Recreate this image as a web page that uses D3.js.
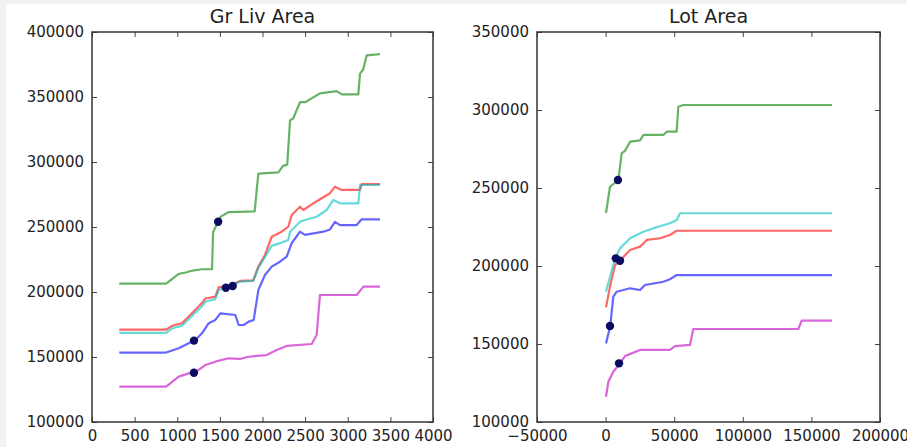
<!DOCTYPE html>
<html>
<head>
<meta charset="utf-8">
<script src="https://cdn.jsdelivr.net/npm/d3@7"></script>
<style>
    body { margin: 0; background: #f2f2f2; }
    svg { display: block; font-family: 'DejaVu Sans', sans-serif; }
</style>
</head>
<body>
<svg id="chart" width="907" height="447"></svg>
<script>
// Gr Liv Area 各条曲线 [x, y]
const grLivBlue = [[320, 153400], [870, 153400], [1017, 156700], [1134, 160500], [1212, 163100], [1290, 168200], [1369, 176000], [1447, 178500], [1505, 183600], [1681, 182300], [1720, 174600], [1779, 174600], [1838, 177200], [1897, 178500], [1951, 201500], [2029, 213100], [2108, 219500], [2205, 223300], [2284, 227200], [2342, 237500], [2440, 246400], [2498, 243900], [2714, 246400], [2792, 248100], [2850, 254000], [2909, 251500], [3105, 251500], [3163, 255900], [3378, 255900]]
const grLivGreen = [[320, 206500], [870, 206500], [1017, 214000], [1100, 215000], [1180, 216500], [1290, 217500], [1408, 217500], [1420, 246000], [1478, 254000], [1510, 258000], [1603, 261500], [1908, 262000], [1951, 291000], [2186, 292000], [2240, 297000], [2290, 298000], [2323, 332000], [2360, 333500], [2440, 346000], [2500, 346000], [2674, 352800], [2870, 354500], [2929, 352000], [3124, 352000], [3144, 368000], [3180, 371000], [3222, 382000], [3378, 383000]]
const grLivRed = [[320, 171000], [870, 171000], [938, 174000], [1056, 176000], [1173, 183600], [1290, 191500], [1330, 195000], [1447, 196400], [1486, 203500], [1600, 204500], [1736, 208500], [1892, 209000], [1951, 219500], [2029, 228500], [2108, 242500], [2225, 246400], [2303, 250200], [2342, 259200], [2440, 265600], [2479, 263100], [2596, 268200], [2694, 272100], [2792, 276000], [2850, 281000], [2929, 278500], [3144, 278500], [3163, 283000], [3378, 283000]]
const grLivCyan = [[320, 168500], [870, 168500], [938, 172000], [1056, 174000], [1173, 181500], [1290, 189000], [1330, 192500], [1447, 194500], [1486, 201500], [1600, 203500], [1736, 208000], [1892, 208500], [1951, 218500], [2029, 227000], [2108, 235500], [2225, 238000], [2303, 240000], [2323, 246400], [2440, 254000], [2498, 255400], [2635, 257900], [2753, 263100], [2831, 270800], [2909, 268200], [3124, 268200], [3144, 282300], [3378, 282300]]
const grLivMagenta = [[320, 127200], [870, 127200], [1017, 134900], [1134, 137400], [1205, 137900], [1329, 143800], [1447, 146400], [1603, 149000], [1736, 148500], [1834, 150200], [2049, 151500], [2166, 155400], [2284, 158500], [2577, 160000], [2635, 166900], [2674, 197700], [3105, 197700], [3183, 204100], [3378, 204100]]
const grLivDots = [[1480, 254000], [1570, 203300], [1650, 204600], [1196, 162600], [1196, 137900]]

// Lot Area 各条曲线 [x, y]
const lotBlue = [[300, 150400], [3400, 161500], [5600, 180300], [8100, 183500], [17800, 185700], [25100, 184600], [28700, 187800], [42100, 189900], [46900, 191500], [51800, 194200], [165000, 194200]]
const lotGreen = [[300, 234000], [3200, 250800], [9300, 255100], [11700, 272200], [14100, 273800], [17800, 279700], [25100, 280500], [27500, 284000], [42100, 284000], [44500, 286100], [51800, 286100], [53000, 302100], [56600, 303200], [165000, 303200]]
const lotRed = [[300, 173500], [3200, 186800], [6900, 200600], [10500, 203400], [17800, 210300], [25100, 212400], [30000, 216700], [39700, 217800], [46900, 219900], [51800, 222600], [165000, 222600]]
const lotCyan = [[300, 183500], [3200, 193100], [6900, 204900], [10500, 211300], [17800, 217800], [27500, 222000], [37200, 224800], [46900, 227400], [51800, 229500], [54200, 233800], [165000, 233800]]
const lotMagenta = [[300, 116200], [2000, 125800], [5600, 132200], [10500, 137600], [14100, 142300], [19000, 144000], [25100, 146200], [46900, 146200], [50600, 148700], [61500, 149400], [63900, 159600], [140500, 159600], [142900, 165000], [165000, 165000]]
const lotDots = [[9000, 255100], [7400, 204900], [10500, 203400], [3200, 161500], [9800, 137600]]

// 刻度
const grLivXTicks = d3.range(0, 4001, 500)
const grLivYTicks = d3.range(100000, 400001, 50000)
const lotXTicks = d3.range(-50000, 200001, 50000)
const lotYTicks = d3.range(100000, 350001, 50000)

const colors = ['#0000ff', '#008000', '#ff0000', '#00bfbf', '#bf00bf']

const svg = d3.select('#chart')

// 白色画布,左上留一点灰边
svg.append('rect')
    .attr('x', 6).attr('y', 4)
    .attr('width', 901).attr('height', 443)
    .attr('fill', '#ffffff')

function drawPanel(opt) {
    const x = d3.scaleLinear().domain(opt.xDomain).range([opt.left, opt.right])
    const y = d3.scaleLinear().domain(opt.yDomain).range([opt.bottom, opt.top])
    const g = svg.append('g')

    // 曲线
    const line = d3.line().x(d => x(d[0])).y(d => y(d[1]))
    opt.series.forEach((s, i) => {
        g.append('path')
            .datum(s)
            .attr('d', line)
            .attr('fill', 'none')
            .attr('stroke', colors[i])
            .attr('stroke-opacity', 0.6)
            .attr('stroke-width', 2.2)
            .attr('stroke-linejoin', 'round')
    })

    // 当前值的点
    g.selectAll('.dot')
        .data(opt.dots)
        .enter()
        .append('circle')
        .attr('class', 'dot')
        .attr('cx', d => x(d[0]))
        .attr('cy', d => y(d[1]))
        .attr('r', 4.2)
        .attr('fill', '#0b0b62')

    // 坐标轴,刻度朝内,四边都有
    const tick = 5
    g.append('g')
        .attr('transform', `translate(0,${opt.bottom})`)
        .call(d3.axisBottom(x).tickValues(opt.xTicks).tickSize(-tick).tickPadding(8).tickFormat(d3.format('d')))
    g.append('g')
        .attr('transform', `translate(0,${opt.top})`)
        .call(d3.axisTop(x).tickValues(opt.xTicks).tickSize(-tick).tickFormat(''))
    g.append('g')
        .attr('transform', `translate(${opt.left},0)`)
        .call(d3.axisLeft(y).tickValues(opt.yTicks).tickSize(-tick).tickPadding(8).tickFormat(d3.format('d')))
    g.append('g')
        .attr('transform', `translate(${opt.right},0)`)
        .call(d3.axisRight(y).tickValues(opt.yTicks).tickSize(-tick).tickFormat(''))

    g.selectAll('.domain').remove()
    g.selectAll('.tick line').attr('stroke', '#444').attr('stroke-width', 1)
    g.selectAll('.tick text')
        .attr('fill', '#222')
        .attr('font-size', '15px')
        .attr('font-family', 'DejaVu Sans, sans-serif')

    // 边框
    g.append('rect')
        .attr('x', opt.left).attr('y', opt.top)
        .attr('width', opt.right - opt.left)
        .attr('height', opt.bottom - opt.top)
        .attr('fill', 'none')
        .attr('stroke', '#333')
        .attr('stroke-width', 1.5)

    g.append('text')
        .attr('x', (opt.left + opt.right) / 2)
        .attr('y', 23)
        .attr('text-anchor', 'middle')
        .attr('font-size', '19px')
        .attr('fill', '#222')
        .text(opt.title)
}

drawPanel({
    title: 'Gr Liv Area',
    left: 92, right: 433, top: 32, bottom: 422,
    xDomain: [0, 4000], yDomain: [100000, 400000],
    xTicks: grLivXTicks, yTicks: grLivYTicks,
    series: [grLivBlue, grLivGreen, grLivRed, grLivCyan, grLivMagenta],
    dots: grLivDots,
})

drawPanel({
    title: 'Lot Area',
    left: 537, right: 880, top: 32, bottom: 422,
    xDomain: [-50000, 200000], yDomain: [100000, 350000],
    xTicks: lotXTicks, yTicks: lotYTicks,
    series: [lotBlue, lotGreen, lotRed, lotCyan, lotMagenta],
    dots: lotDots,
})
</script>
</body>
</html>
